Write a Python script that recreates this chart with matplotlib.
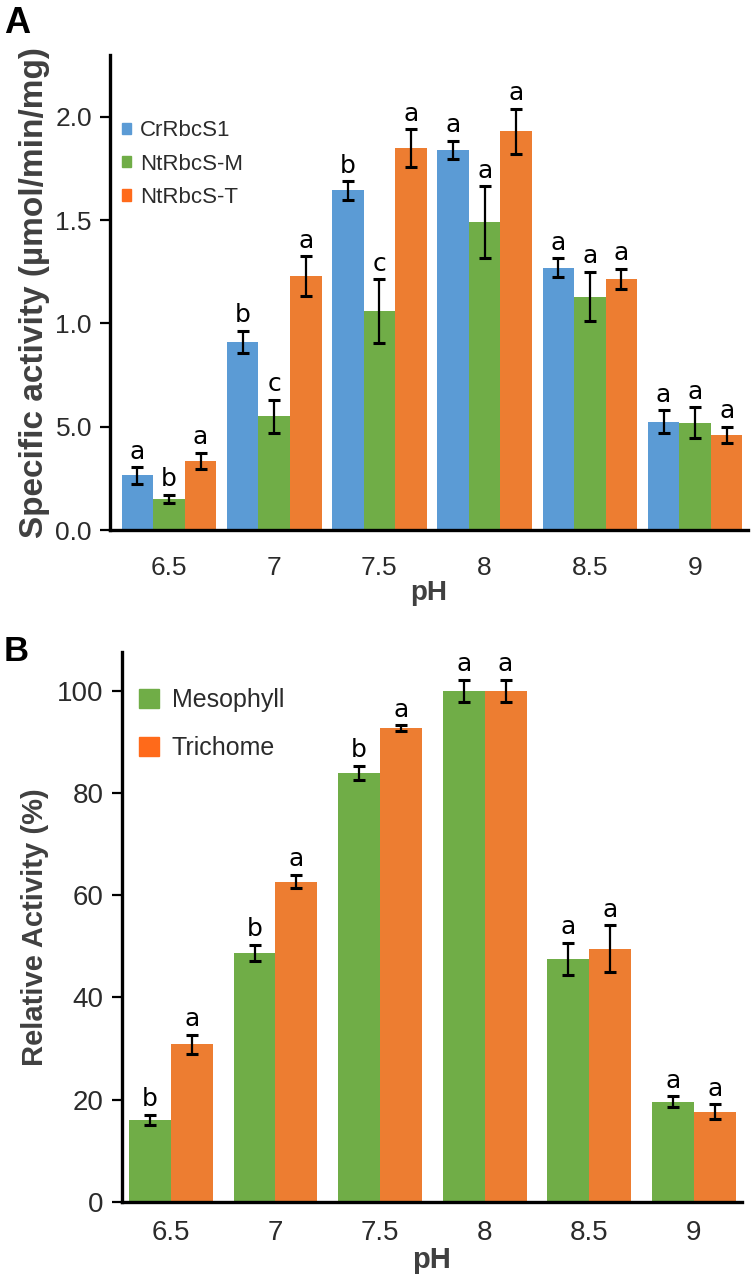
import numpy as np
import matplotlib
matplotlib.use('Agg')
import matplotlib.pyplot as plt
from matplotlib.patches import Patch

plt.rcParams['font.family'] = ['Liberation Sans', 'DejaVu Sans']

ph_labels = ['6.5', '7', '7.5', '8', '8.5', '9']

# panel A
cr_vals = [0.265, 0.91, 1.645, 1.84, 1.27, 0.525]
cr_err = [0.04, 0.055, 0.045, 0.045, 0.045, 0.055]
cr_sig = ['a', 'b', 'b', 'a', 'a', 'a']
ntm_vals = [0.15, 0.55, 1.06, 1.49, 1.13, 0.52]
ntm_err = [0.02, 0.08, 0.155, 0.175, 0.12, 0.075]
ntm_sig = ['b', 'c', 'c', 'a', 'a', 'a']
ntt_vals = [0.335, 1.23, 1.85, 1.93, 1.215, 0.46]
ntt_err = [0.04, 0.095, 0.09, 0.11, 0.05, 0.04]
ntt_sig = ['a', 'a', 'a', 'a', 'a', 'a']
a_yticks = [0.0, 0.5, 1.0, 1.5, 2.0]
a_ytick_labels = ['0.0', '5.0', '1.0', '1.5', '2.0']

# panel B
meso_vals = [16.0, 48.7, 84.0, 100.0, 47.5, 19.6]
meso_err = [1.0, 1.6, 1.4, 2.2, 3.2, 1.1]
meso_sig = ['b', 'b', 'b', 'a', 'a', 'a']
tri_vals = [30.8, 62.7, 92.7, 100.0, 49.5, 17.6]
tri_err = [1.9, 1.3, 0.6, 2.2, 4.6, 1.5]
tri_sig = ['a', 'a', 'a', 'a', 'a', 'a']
b_yticks = [0, 20, 40, 60, 80, 100]

BLUE = '#5B9BD5'
GREEN = '#70AD47'
ORANGE = '#ED7D31'
TXT = '#2b2b2b'


def style_axes(ax, tick_size):
    for s in ['top', 'right']:
        ax.spines[s].set_visible(False)
    for s in ['left', 'bottom']:
        ax.spines[s].set_linewidth(2.4)
        ax.spines[s].set_color('black')
    ax.tick_params(axis='y', length=7, width=1.6, pad=6, labelsize=tick_size,
                   labelcolor=TXT)
    ax.tick_params(axis='x', length=0, labelsize=tick_size, labelcolor=TXT)


def draw_group(ax, x, vals, errs, sig, width, color):
    ax.bar(x, vals, width=width, color=color, edgecolor='none', zorder=2)
    ax.errorbar(x, vals, yerr=errs, fmt='none', ecolor='black', elinewidth=1.6,
                capsize=4.5, capthick=2.2, zorder=3)
    for xi, v, e, s in zip(x, vals, errs, sig):
        ax.annotate(s, (xi, v + e), xytext=(0, 2.5), textcoords='offset points',
                    ha='center', va='bottom', fontsize=18, color='black',
                    family='DejaVu Sans')


fig = plt.figure(figsize=(7.52, 12.88), dpi=100)

# ---- A
axA = fig.add_axes([0.1463, 0.5885, 0.848, 0.3688])
x = np.arange(len(ph_labels))
w = 0.3
draw_group(axA, x - w, cr_vals, cr_err, cr_sig, w, BLUE)
draw_group(axA, x, ntm_vals, ntm_err, ntm_sig, w, GREEN)
draw_group(axA, x + w, ntt_vals, ntt_err, ntt_sig, w, ORANGE)
axA.set_xlim(-0.56, 5.5)
axA.set_ylim(0, 2.30)
axA.set_yticks(a_yticks)
axA.set_yticklabels(a_ytick_labels)
axA.set_xticks(x)
axA.set_xticklabels(ph_labels)
style_axes(axA, 19)
axA.tick_params(axis='x', pad=19)
axA.set_xlabel('pH', fontsize=20, fontweight='bold', color='#404040', labelpad=0)
axA.set_ylabel('Specific activity (µmol/min/mg)', fontsize=24, fontweight='bold',
               color='#404040', labelpad=4)
hA = [Patch(color=BLUE), Patch(color=GREEN), Patch(color='#FF6A1A')]
axA.legend(hA, ['CrRbcS1', 'NtRbcS-M', 'NtRbcS-T'], loc='upper left',
           bbox_to_anchor=(-0.005, 0.895), frameon=False, fontsize=16,
           handlelength=0.4, handleheight=0.4, handletextpad=0.4,
           labelspacing=0.55, borderaxespad=0.3, labelcolor=TXT)
fig.text(0.005, 0.995, 'A', fontsize=26, fontweight='bold', va='top', ha='left')

# ---- B
axB = fig.add_axes([0.1618, 0.067, 0.8249, 0.427])
w = 0.4
draw_group(axB, x - w / 2, meso_vals, meso_err, meso_sig, w, GREEN)
draw_group(axB, x + w / 2, tri_vals, tri_err, tri_sig, w, ORANGE)
axB.set_xlim(-0.47, 5.46)
axB.set_ylim(0, 107.7)
axB.set_yticks(b_yticks)
axB.set_xticks(x)
axB.set_xticklabels(ph_labels)
style_axes(axB, 20)
axB.tick_params(axis='x', pad=13)
axB.set_xlabel('pH', fontsize=21, fontweight='bold', color='#404040', labelpad=0)
axB.set_ylabel('Relative Activity (%)', fontsize=21, fontweight='bold',
               color='#404040', labelpad=6)
hB = [Patch(color=GREEN), Patch(color='#FF6A1A')]
axB.legend(hB, ['Mesophyll', 'Trichome'], loc='upper left',
           bbox_to_anchor=(0.0, 0.965), frameon=False, fontsize=18,
           handlelength=0.8, handleheight=0.8, handletextpad=0.5,
           labelspacing=0.95, borderaxespad=0.3, labelcolor=TXT)
fig.text(0.005, 0.507, 'B', fontsize=25, fontweight='bold', va='top', ha='left')

fig.savefig('out.png', dpi=100)
